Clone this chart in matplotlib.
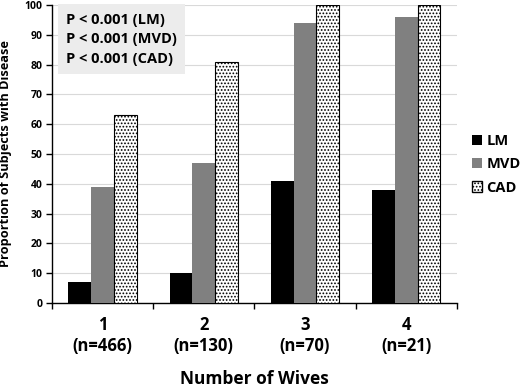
import numpy as np
import matplotlib.pyplot as plt
from matplotlib.patches import Patch

plt.rcParams['font.family'] = ['Open Sans', 'DejaVu Sans']
plt.rcParams['hatch.linewidth'] = 0.8
plt.rcParams['hatch.color'] = '#555555'

# Data
groups = ['1\n(n=466)', '2\n(n=130)', '3\n(n=70)', '4\n(n=21)']
lm = [7, 10, 41, 38]
mvd = [39, 47, 94, 96]
cad = [63, 81, 100, 100]
stats_text = ['P < 0.001 (LM)', 'P < 0.001 (MVD)', 'P < 0.001 (CAD)']

fig = plt.figure(figsize=(5.21, 3.91), dpi=100)
ax = fig.add_axes([0.0998, 0.225, 0.777, 0.762])

x = np.arange(len(groups))
w = 0.225
ax.bar(x - w, lm, w, color='black', zorder=3)
ax.bar(x, mvd, w, color='#808080', zorder=3)
ax.bar(x + w, cad, w, color='white', edgecolor='black', hatch='.....', linewidth=0.8, zorder=3)

ax.set_xlim(-0.5, len(groups) - 0.5)
ax.set_ylim(0, 100)
ax.set_yticks(range(0, 101, 10))
ax.yaxis.grid(True, color='#d9d9d9', linewidth=0.8, zorder=0)
ax.set_axisbelow(True)

ax.set_xticks(x)
ax.set_xticklabels(groups, fontsize=12, fontweight='bold', linespacing=1.25)
ax.set_xticks(np.arange(len(groups) + 1) - 0.5, minor=True)
ax.tick_params(axis='x', which='major', length=0, pad=9)
ax.tick_params(axis='x', which='minor', length=4, width=1)
ax.tick_params(axis='y', labelsize=7.5, length=4, width=1, pad=3)
for lab in ax.get_yticklabels():
    lab.set_fontweight('bold')

for s in ['top', 'right']:
    ax.spines[s].set_visible(False)
ax.spines['left'].set_linewidth(1)
ax.spines['bottom'].set_linewidth(1)

ax.set_ylabel('Proportion of Subjects with Disease', fontsize=9.2, fontweight='bold')
ax.yaxis.set_label_coords(-0.1, 0.5)
ax.set_xlabel('Number of Wives', fontsize=12.5, fontweight='bold')
ax.xaxis.set_label_coords(0.5, -0.225)

ax.text(0.035, 0.975, '\n'.join(stats_text), transform=ax.transAxes, va='top', ha='left',
        fontsize=10.5, fontweight='bold', linespacing=1.5,
        bbox=dict(facecolor='#ececec', edgecolor='none', pad=6))

handles = [Patch(facecolor='black'), Patch(facecolor='#808080'),
           Patch(facecolor='white', edgecolor='black', hatch='.....')]
fig.legend(handles, ['LM', 'MVD', 'CAD'], loc='center left', bbox_to_anchor=(0.88, 0.58),
           frameon=False, prop={'weight': 'bold', 'size': 10.5}, handlelength=0.7,
           handleheight=0.7, handletextpad=0.3, labelspacing=0.65)

fig.savefig('out.png', dpi=100)
